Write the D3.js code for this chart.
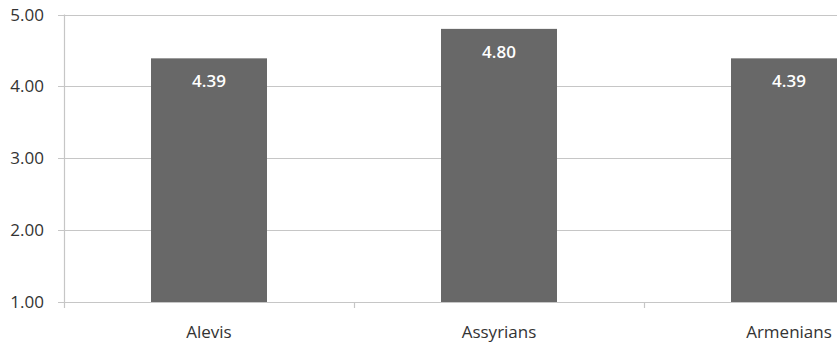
<!DOCTYPE html>
<html>
<head>
<meta charset="utf-8">
<script src="https://cdn.jsdelivr.net/npm/d3@7"></script>
<style>
  html, body { margin: 0; padding: 0; background: #fff; }
  svg { display: block; }
  text { font-family: "Open Sans", "Liberation Sans", sans-serif; }
</style>
</head>
<body>
<svg id="chart" width="837" height="342"></svg>
<script>
// Mean scores by group
const categories = ["Alevis", "Assyrians", "Armenians"];
const values = [4.39, 4.80, 4.39];
const yTicks = [1, 2, 3, 4, 5];

const svg = d3.select("#chart");
const plotLeft = 64, plotBottom = 302, plotTop = 14.5;

const x = d3.scaleBand()
  .domain(categories)
  .range([plotLeft, plotLeft + 290 * 3])
  .paddingInner(0.6)
  .paddingOuter(0.3);

const y = d3.scaleLinear().domain([1, 5]).range([plotBottom, plotTop]);

// horizontal gridlines with short outside ticks
svg.append("g")
  .selectAll("line")
  .data(yTicks)
  .join("line")
  .attr("x1", plotLeft - 6)
  .attr("x2", 837)
  .attr("y1", d => Math.round(y(d)) + 0.5)
  .attr("y2", d => Math.round(y(d)) + 0.5)
  .attr("stroke", "#c6c6c6")
  .attr("stroke-width", 1.2);

// y axis line
svg.append("line")
  .attr("x1", plotLeft + 0.5).attr("x2", plotLeft + 0.5)
  .attr("y1", plotTop).attr("y2", plotBottom + 6)
  .attr("stroke", "#c6c6c6").attr("stroke-width", 1.2);

// category separators on the x axis
const step = x.step();
svg.append("g")
  .selectAll("line")
  .data(categories.slice(0, -1))
  .join("line")
  .attr("x1", d => x(d) - step * 0.3 + step + 0.5)
  .attr("x2", d => x(d) - step * 0.3 + step + 0.5)
  .attr("y1", plotBottom)
  .attr("y2", plotBottom + 6)
  .attr("stroke", "#c6c6c6").attr("stroke-width", 1.2);

// y tick labels
svg.append("g")
  .selectAll("text")
  .data(yTicks)
  .join("text")
  .attr("x", 44)
  .attr("y", d => y(d) + 6)
  .attr("text-anchor", "end")
  .attr("font-size", 17)
  .attr("fill", "#333333")
  .text(d => d3.format(".2f")(d));

// bars
svg.append("g")
  .selectAll("rect")
  .data(values)
  .join("rect")
  .attr("x", (d, i) => x(categories[i]))
  .attr("y", d => y(d))
  .attr("width", x.bandwidth())
  .attr("height", d => plotBottom - y(d))
  .attr("fill", "#686868");

// value labels inside bars
svg.append("g")
  .selectAll("text")
  .data(values)
  .join("text")
  .attr("x", (d, i) => x(categories[i]) + x.bandwidth() / 2)
  .attr("y", d => y(d) + 29)
  .attr("text-anchor", "middle")
  .attr("font-size", 17)
  .attr("font-weight", 600)
  .attr("fill", "#ffffff")
  .text(d => d3.format(".2f")(d));

// category labels
svg.append("g")
  .selectAll("text")
  .data(categories)
  .join("text")
  .attr("x", d => x(d) + x.bandwidth() / 2)
  .attr("y", 338)
  .attr("text-anchor", "middle")
  .attr("font-size", 17)
  .attr("fill", "#333333")
  .text(d => d);
</script>
</body>
</html>
